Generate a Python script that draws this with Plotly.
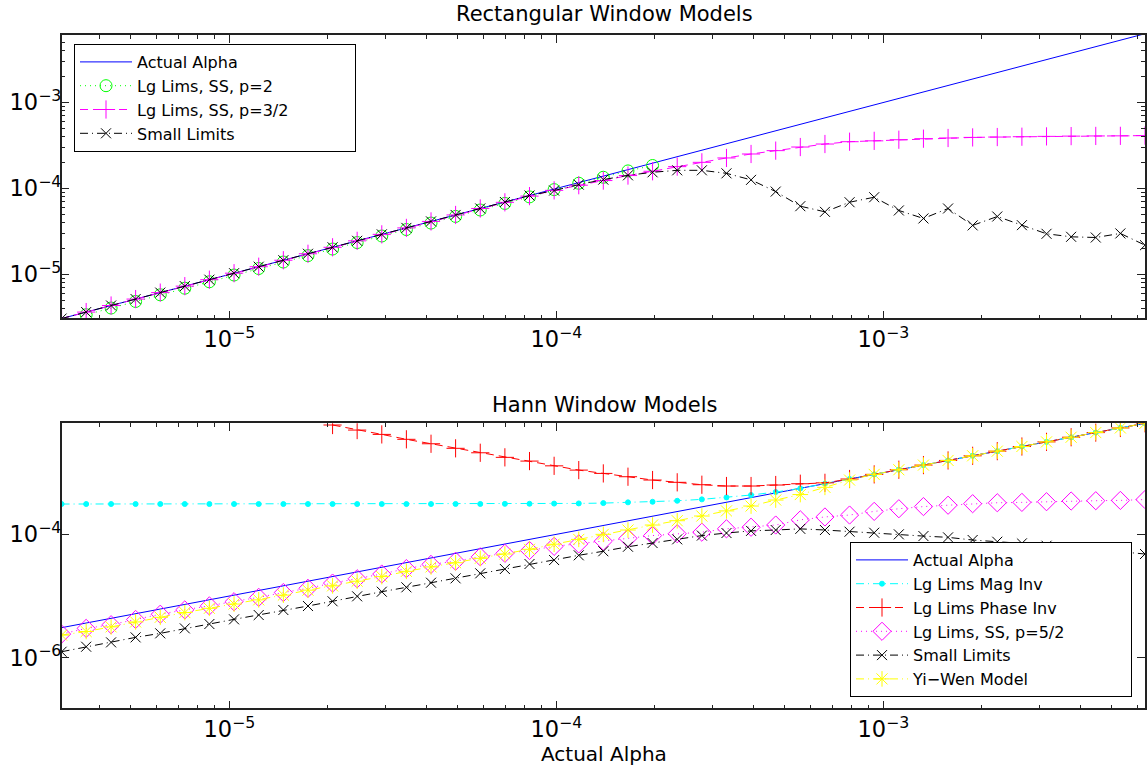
import plotly.graph_objects as go

# ---------------- data ----------------
alpha = [3.07e-6, 3.65e-6, 4.35e-6, 5.17e-6, 6.15e-6, 7.31e-6, 8.69e-6, 1.034e-5, 1.230e-5, 1.463e-5,
         1.740e-5, 2.069e-5, 2.460e-5, 2.926e-5, 3.479e-5, 4.138e-5, 4.920e-5, 5.853e-5, 6.961e-5, 8.278e-5,
         9.845e-5, 1.171e-4, 1.392e-4, 1.656e-4, 1.969e-4, 2.342e-4, 2.786e-4, 3.313e-4, 3.939e-4, 4.686e-4,
         5.572e-4, 6.627e-4, 7.882e-4, 9.374e-4, 1.115e-3, 1.326e-3, 1.577e-3, 1.875e-3, 2.230e-3, 2.652e-3,
         3.154e-3, 3.751e-3, 4.461e-3, 5.305e-3, 6.310e-3]

# Rectangular window
rect_ss_p2 = [None, 3.40e-6, 4.07e-6, 4.85e-6, 5.80e-6, 6.92e-6, 8.22e-6, 9.85e-6, 1.172e-5, 1.395e-5,
              1.655e-5, 1.975e-5, 2.350e-5, 2.800e-5, 3.330e-5, 3.960e-5, 4.730e-5, 5.620e-5, 6.700e-5, 7.980e-5,
              9.700e-5, 1.150e-4, 1.350e-4, 1.600e-4, 1.850e-4]
rect_ss_p32 = [3.07e-6, 3.65e-6, 4.35e-6, 5.17e-6, 6.15e-6, 7.31e-6, 8.69e-6, 1.034e-5, 1.230e-5, 1.463e-5,
               1.740e-5, 2.069e-5, 2.460e-5, 2.926e-5, 3.479e-5, 4.138e-5, 4.920e-5, 5.853e-5, 6.900e-5, 8.150e-5,
               9.51e-5, 1.091e-4, 1.236e-4, 1.413e-4, 1.585e-4, 1.795e-4, 2.014e-4, 2.265e-4, 2.518e-4, 2.754e-4,
               3.034e-4, 3.289e-4, 3.499e-4, 3.581e-4, 3.690e-4, 3.793e-4, 3.864e-4, 3.926e-4, 3.963e-4, 4.000e-4,
               4.036e-4, 4.064e-4, 4.083e-4, 4.093e-4, 4.121e-4]
rect_small = [3.07e-6, 3.65e-6, 4.35e-6, 5.17e-6, 6.15e-6, 7.31e-6, 8.69e-6, 1.034e-5, 1.230e-5, 1.463e-5,
              1.740e-5, 2.069e-5, 2.460e-5, 2.926e-5, 3.479e-5, 4.138e-5, 4.920e-5, 5.853e-5, 6.961e-5, 8.278e-5,
              9.46e-5, 1.109e-4, 1.268e-4, 1.422e-4, 1.542e-4, 1.626e-4, 1.626e-4, 1.500e-4, 1.259e-4, 9.20e-5,
              6.22e-5, 5.35e-5, 6.92e-5, 7.91e-5, 5.55e-5, 4.48e-5, 5.85e-5, 3.72e-5, 4.72e-5, 3.74e-5,
              2.97e-5, 2.74e-5, 2.69e-5, 3.00e-5, 2.19e-5]

# Hann window
hann_mag_inv = [3.10e-4, 3.10e-4, 3.10e-4, 3.10e-4, 3.10e-4, 3.10e-4, 3.10e-4, 3.10e-4, 3.10e-4, 3.10e-4,
                3.10e-4, 3.10e-4, 3.10e-4, 3.10e-4, 3.10e-4, 3.10e-4, 3.11e-4, 3.11e-4, 3.12e-4, 3.13e-4,
                3.15e-4, 3.17e-4, 3.21e-4, 3.30e-4, 3.37e-4, 3.50e-4, 3.69e-4, 3.97e-4, 4.34e-4, 4.85e-4,
                5.56e-4, 6.627e-4, 7.882e-4, 9.374e-4, 1.115e-3, 1.326e-3, 1.577e-3, 1.875e-3, 2.230e-3, 2.652e-3,
                3.154e-3, 3.751e-3, 4.461e-3, 5.305e-3, 6.310e-3]
hann_phase_inv = [None, None, None, None, None, None, None, None, None, None,
                  None, 5.92e-3, 4.90e-3, 4.17e-3, 3.47e-3, 2.94e-3, 2.48e-3, 2.10e-3, 1.77e-3, 1.54e-3,
                  1.29e-3, 1.10e-3, 9.72e-4, 8.59e-4, 7.59e-4, 6.97e-4, 6.37e-4, 6.07e-4, 6.07e-4, 6.30e-4,
                  6.61e-4, 6.84e-4, 7.882e-4, 9.374e-4, 1.115e-3, 1.326e-3, 1.577e-3, 1.875e-3, 2.230e-3, 2.652e-3,
                  3.154e-3, 3.751e-3, 4.461e-3, 5.305e-3, 6.310e-3]
hann_ss_p52 = [2.415e-6, 2.99e-6, 3.43e-6, 4.17e-6, 5.07e-6, 5.96e-6, 6.92e-6, 8.09e-6, 9.53e-6, 1.140e-5,
               1.334e-5, 1.622e-5, 1.905e-5, 2.275e-5, 2.786e-5, 3.26e-5, 3.67e-5, 4.32e-5, 4.92e-5, 5.47e-5,
               6.38e-5, 7.00e-5, 7.76e-5, 8.61e-5, 9.55e-5, 1.023e-4, 1.084e-4, 1.230e-4, 1.303e-4, 1.416e-4,
               1.718e-4, 1.914e-4, 2.056e-4, 2.355e-4, 2.600e-4, 2.818e-4, 2.965e-4, 3.141e-4, 3.251e-4, 3.296e-4,
               3.381e-4, 3.467e-4, 3.508e-4, 3.548e-4, 3.664e-4]
hann_small = [1.250e-6, 1.507e-6, 1.774e-6, 2.138e-6, 2.483e-6, 2.99e-6, 3.516e-6, 4.188e-6, 4.920e-6, 5.929e-6,
              6.887e-6, 8.222e-6, 9.886e-6, 1.175e-5, 1.384e-5, 1.644e-5, 1.936e-5, 2.333e-5, 2.742e-5, 3.304e-5,
              3.828e-5, 4.571e-5, 5.321e-5, 6.295e-5, 7.228e-5, 8.299e-5, 9.550e-5, 1.050e-4, 1.138e-4, 1.175e-4,
              1.227e-4, 1.175e-4, 1.104e-4, 1.062e-4, 1.000e-4, 9.376e-5, 8.933e-5, 8.091e-5, 7.586e-5, 7.145e-5,
              6.531e-5, 6.152e-5, 5.715e-5, 5.224e-5, 4.797e-5]
hann_yiwen = [2.328e-6, 2.661e-6, 3.162e-6, 3.802e-6, 4.519e-6, 5.395e-6, 6.324e-6, 7.413e-6, 8.670e-6, 1.035e-5,
              1.245e-5, 1.462e-5, 1.738e-5, 2.065e-5, 2.512e-5, 2.965e-5, 3.467e-5, 4.083e-5, 4.797e-5, 5.715e-5,
              6.918e-5, 8.279e-5, 1.000e-4, 1.175e-4, 1.416e-4, 1.663e-4, 1.982e-4, 2.399e-4, 2.877e-4, 3.597e-4,
              4.416e-4, 5.781e-4, 7.586e-4, 9.374e-4, 1.115e-3, 1.326e-3, 1.577e-3, 1.875e-3, 2.230e-3, 2.652e-3,
              3.154e-3, 3.751e-3, 4.461e-3, 5.305e-3, 6.310e-3]

titles = ["Rectangular Window Models", "Hann Window Models"]
xlabel = "Actual Alpha"

# ---------------- styling ----------------
W, H = 1148, 767
FONT = "DejaVu Sans"
TICK_FS = 18
TITLE_FS = 21
LEG_FS = 16
DOT = "1px,4px"
DASH = "8px,5px"
DASHDOT = "8px,4px,1px,4px"
PAD = "\u00a0" * 12   # widens the legend box to the reference's width

fig = go.Figure()

def add(x, y, name, color, dash, symbol, size, xa, ya, legend, lw=1, mlw=1):
    mode = "lines" if symbol is None else "lines+markers"
    marker = None
    if symbol is not None:
        marker = dict(symbol=symbol, size=size, color=color, line=dict(color=color, width=mlw))
    fig.add_trace(go.Scatter(x=x[:len(y)], y=y, name=name, mode=mode, xaxis=xa, yaxis=ya,
                             legend=legend, connectgaps=False,
                             line=dict(color=color, width=lw, dash=dash), marker=marker))

# top panel
add(alpha, alpha, "Actual Alpha", "#0000ff", "solid", None, 0, "x", "y", "legend")
add(alpha, rect_ss_p2, "Lg Lims, SS, p=2", "#00ff00", DOT, "circle-open", 12, "x", "y", "legend")
add(alpha, rect_ss_p32, "Lg Lims, SS, p=3/2" + PAD, "#ff00ff", DASH, "cross-thin-open", 13, "x", "y", "legend")
add(alpha, rect_small, "Small Limits", "#000000", DASHDOT, "x-thin-open", 10, "x", "y", "legend")

# bottom panel
add(alpha, alpha, "Actual Alpha", "#0000ff", "solid", None, 0, "x2", "y2", "legend2")
add(alpha, hann_mag_inv, "Lg Lims Mag Inv", "#00ffff", DASHDOT, "circle", 5, "x2", "y2", "legend2")
add(alpha, hann_phase_inv, "Lg Lims Phase Inv", "#ff0000", DASH, "cross-thin-open", 13, "x2", "y2", "legend2")
add(alpha, hann_ss_p52, "Lg Lims, SS, p=5/2" + PAD, "#ff00ff", DOT, "diamond-open", 14, "x2", "y2", "legend2")
add(alpha, hann_small, "Small Limits", "#000000", DASHDOT, "x-thin-open", 10, "x2", "y2", "legend2")
add(alpha, hann_yiwen, "Yi\u2212Wen Model", "#ffff00", DASHDOT, "asterisk-open", 13, "x2", "y2", "legend2")

xdom = [61.7 / W, 1145 / W]
top_dom = [1 - 318.3 / H, 1 - 35 / H]
bot_dom = [1 - 708.3 / H, 1 - 423.3 / H]

common = dict(type="log", showline=True, linecolor="#222222", linewidth=1.5, mirror="ticks",
              ticks="inside", ticklen=8, tickcolor="#222222", tickwidth=1, showgrid=False, zeroline=False,
              exponentformat="power", showexponent="all", automargin=False,
              tickfont=dict(family=FONT, size=TICK_FS, color="black"))
minor = dict(ticks="inside", ticklen=4, tickcolor="#222222", tickwidth=1, showgrid=False)

legend_common = dict(bgcolor="white", bordercolor="black", borderwidth=1,
                     font=dict(family=FONT, size=LEG_FS, color="black"),
                     tracegroupgap=0, itemwidth=52)

fig.update_layout(
    width=W, height=H, margin=dict(l=0, r=0, t=0, b=0),
    paper_bgcolor="white", plot_bgcolor="white", showlegend=True,
    font=dict(family=FONT, size=TICK_FS, color="black"),
    xaxis=dict(common, domain=xdom, anchor="y", range=[-5.5125, -2.20], dtick=1, minor=minor,
               ticklabelstandoff=1),
    yaxis=dict(common, domain=top_dom, anchor="x", range=[-5.51, -2.215], dtick=1, minor=minor,
               ticklabelstandoff=-5),
    xaxis2=dict(common, domain=xdom, anchor="y2", range=[-5.5125, -2.20], dtick=1, minor=minor,
                ticklabelstandoff=1),
    yaxis2=dict(common, domain=bot_dom, anchor="x2", range=[-6.82, -2.20], dtick=2, tick0=0,
                ticklabelstandoff=-5),
    legend=dict(legend_common, x=74 / W, y=1 - 44 / H, xanchor="left", yanchor="top"),
    legend2=dict(legend_common, x=1132 / W, y=1 - 697 / H, xanchor="right", yanchor="bottom"),
    annotations=[
        dict(text=titles[0], x=605 / W, y=1 - 14 / H, xref="paper", yref="paper", showarrow=False,
             xanchor="center", yanchor="middle", font=dict(family=FONT, size=TITLE_FS)),
        dict(text=titles[1], x=605 / W, y=1 - 405 / H, xref="paper", yref="paper", showarrow=False,
             xanchor="center", yanchor="middle", font=dict(family=FONT, size=TITLE_FS)),
        dict(text=xlabel, x=604 / W, y=1 - 754 / H, xref="paper", yref="paper", showarrow=False,
             xanchor="center", yanchor="middle", font=dict(family=FONT, size=20)),
    ],
)

fig.write_html("out.html")
